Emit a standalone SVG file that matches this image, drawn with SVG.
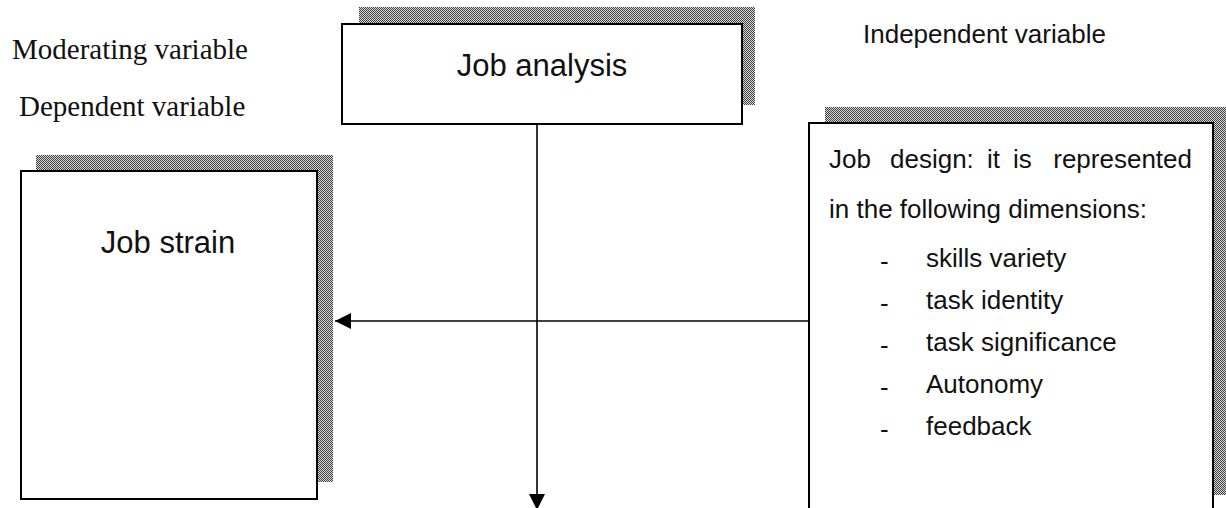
<svg xmlns="http://www.w3.org/2000/svg" width="1226" height="508" viewBox="0 0 1226 508">
<style>
.box{fill:#fff;stroke:#000;stroke-width:2}
.shadow{fill:url(#dither);shape-rendering:crispEdges}
.sans{font-family:"Liberation Sans",Arial,sans-serif;fill:#111}
.serif{font-family:"Liberation Serif","Times New Roman",serif;fill:#111;font-size:29px}
.conn{stroke:#000;stroke-width:1.6;fill:none}
</style>
<defs>
<pattern id="dither" width="2" height="2" patternUnits="userSpaceOnUse">
<rect width="2" height="2" fill="#d8d8d8"/>
<rect width="1" height="1" fill="#404040"/>
<rect x="1" y="1" width="1" height="1" fill="#404040"/>
</pattern>
<marker id="arrow" markerUnits="userSpaceOnUse" markerWidth="16" markerHeight="16" refX="16" refY="8" orient="auto">
<path d="M0,0 L16,8 L0,16 z" fill="#000"/>
</marker>
</defs>
<g id="labels">
<text class="serif" x="12" y="59">Moderating variable</text>
<text class="serif" x="19" y="116">Dependent variable</text>
<text class="sans" x="863" y="43" font-size="26">Independent variable</text>
</g>
<g id="job-analysis">
<rect class="shadow" x="359" y="7" width="396" height="98"/>
<rect class="box" x="342" y="24" width="400" height="100"/>
<text class="sans" x="542" y="76" font-size="31" text-anchor="middle">Job analysis</text>
</g>
<g id="job-strain">
<rect class="shadow" x="36" y="155" width="297" height="327"/>
<rect class="box" x="21" y="171" width="296" height="328"/>
<text class="sans" x="168" y="253" font-size="31" text-anchor="middle">Job strain</text>
</g>
<g id="job-design">
<rect class="shadow" x="825" y="107" width="401" height="388"/>
<rect class="box" x="809" y="123" width="404" height="400"/>
<g class="sans" font-size="26">
<text x="829" y="168">Job</text>
<text x="890" y="168">design:</text>
<text x="987" y="168">it</text>
<text x="1013" y="168">is</text>
<text x="1192" y="168" text-anchor="end">represented</text>
<text x="829" y="218">in the following dimensions:</text>
<text x="880" y="270">-</text><text x="926" y="267">skills variety</text>
<text x="880" y="312">-</text><text x="926" y="309">task identity</text>
<text x="880" y="354">-</text><text x="926" y="351">task significance</text>
<text x="880" y="396">-</text><text x="926" y="393">Autonomy</text>
<text x="880" y="438">-</text><text x="926" y="435">feedback</text>
</g>
</g>
<g id="connectors">
<line class="conn" x1="537" y1="125" x2="537" y2="510" marker-end="url(#arrow)"/>
<line class="conn" x1="809" y1="321" x2="335" y2="321" marker-end="url(#arrow)"/>
</g>
</svg>
